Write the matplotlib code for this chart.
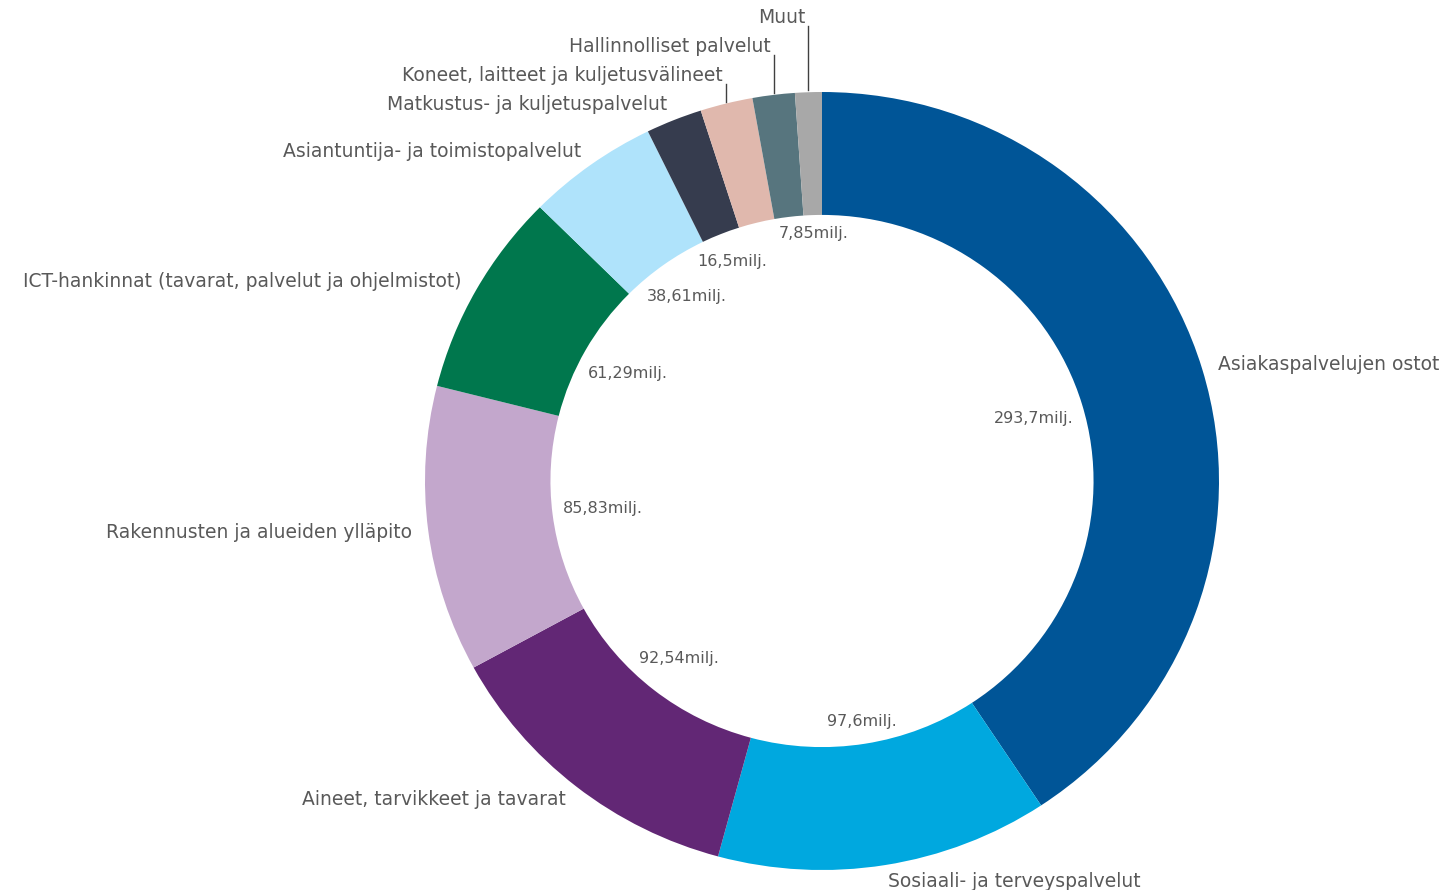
import numpy as np
import matplotlib.pyplot as plt

# Hankinnat kategorioittain (milj. euroa)
categories = ["Asiakaspalvelujen ostot", "Sosiaali- ja terveyspalvelut",
              "Aineet, tarvikkeet ja tavarat", "Rakennusten ja alueiden ylläpito",
              "ICT-hankinnat (tavarat, palvelut ja ohjelmistot)",
              "Asiantuntija- ja toimistopalvelut", "Matkustus- ja kuljetuspalvelut",
              "Koneet, laitteet ja kuljetusvälineet", "Hallinnolliset palvelut", "Muut"]
values = [293.7, 97.6, 92.54, 85.83, 61.29, 38.61, 16.5, 15.4, 12.4, 7.85]
value_labels = ["293,7milj.", "97,6milj.", "92,54milj.", "85,83milj.", "61,29milj.",
                "38,61milj.", "16,5milj.", "", "", "7,85milj."]
colors = ["#005597", "#00A8DF", "#622775", "#C3A7CC", "#00774D",
          "#AFE3FB", "#363C4E", "#E0B8AD", "#57757E", "#A8A8A8"]

plt.rcParams['font.family'] = ['DejaVu Sans']
txt_col = "#595959"

fig = plt.figure(figsize=(14.47, 8.9), dpi=100)
ax = fig.add_axes([0, 0, 1, 1])
r_in = 0.684
ax.pie(values, colors=colors, startangle=90, counterclock=False, radius=1.0,
       wedgeprops=dict(width=1 - r_in, linewidth=0))
ax.set_aspect('auto')
ax.set_xlim(-822 / 397, 625 / 397)
ax.set_ylim(-409 / 389, 481 / 389)
ax.axis('off')

total = sum(values)
cum = np.cumsum([0] + values)
mids = [(cum[i] + values[i] / 2) / total * 2 * np.pi for i in range(len(values))]

# arvot donitsin sisäpuolelle, laatikon reuna sisäkehää vasten
fig.canvas.draw()
rend = fig.canvas.get_renderer()
for m, lab in zip(mids, value_labels):
    if not lab:
        continue
    t = ax.text(0, 0, lab, ha='center', va='center', fontsize=11.5, color=txt_col)
    bb = t.get_window_extent(rend)
    w = bb.width / 397
    h = bb.height / 389
    proj = w / 2 * abs(np.sin(m)) + h / 2 * abs(np.cos(m))
    r = r_in - 0.025 - proj
    t.set_position((r * np.sin(m), r * np.cos(m)))

# kategorioiden nimet
r_lab = 1.042
base_y = None
for i, (m, name) in enumerate(zip(mids, categories)):
    x, y = r_lab * np.sin(m), r_lab * np.cos(m)
    ha = 'left' if x > 0 else 'right'
    if i <= 6:
        ax.text(x, y, name, ha=ha, va='center', fontsize=13.5, color=txt_col)
        base_y = y
    else:
        ly = base_y + 0.0746 * (i - 6)
        lx = np.sin(m)
        ax.plot([lx, lx], [np.cos(m) + 0.005, ly - 0.022], color="#404040", lw=1)
        ax.text(lx - 0.008, ly, name, ha='right', va='center', fontsize=13.5, color=txt_col)

fig.savefig("out.png", dpi=100)
